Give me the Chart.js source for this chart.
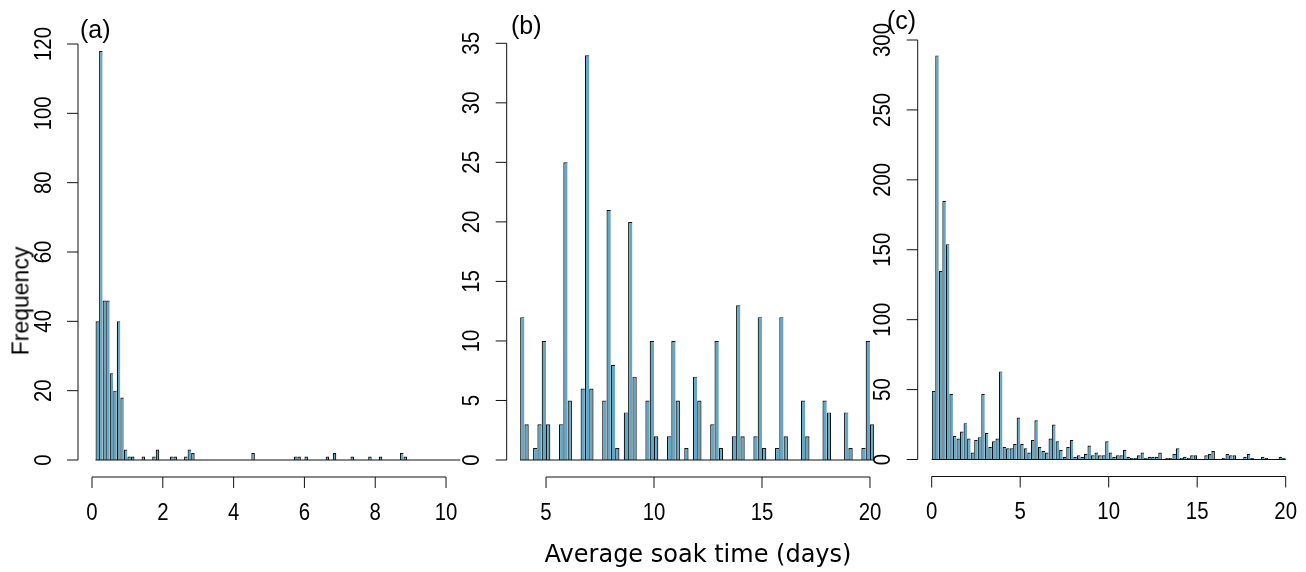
<!DOCTYPE html>
<html>
<head>
<meta charset="utf-8">
<script src="https://cdn.jsdelivr.net/npm/chart.js@4.4.1/dist/chart.umd.min.js"></script>
<style>
html,body{margin:0;padding:0;background:#fff;}
#wrap{position:relative;width:1306px;height:572px;overflow:hidden;background:#fff;}
canvas{position:absolute;left:0;top:0;}
.plab{position:absolute;font-family:"Liberation Sans",Arial,sans-serif;font-size:25px;color:#000;line-height:1;}
#ylab{position:absolute;left:21px;top:301px;transform:translate(-50%,-50%) rotate(-90deg);font-family:"Liberation Sans",Arial,sans-serif;font-size:23px;white-space:nowrap;line-height:1;}
#xlab{position:absolute;left:698px;top:554px;transform:translate(-50%,-50%);font-family:"DejaVu Sans",sans-serif;font-size:24px;white-space:nowrap;line-height:1;}
</style>
</head>
<body>
<div id="wrap">
<canvas id="ca" width="1306" height="572"></canvas>
<canvas id="cb" width="1306" height="572"></canvas>
<canvas id="cc" width="1306" height="572"></canvas>
<div class="plab" style="left:80px;top:17px;">(a)</div>
<div class="plab" style="left:511px;top:13px;">(b)</div>
<div class="plab" style="left:887px;top:8px;">(c)</div>
<div id="ylab">Frequency</div>
<div id="xlab">Average soak time (days)</div>
</div>
<script>
// ---- data (histogram counts per bin) ----
// Panel (a): bins of 0.1 day starting at 0.1
const binStartA = 0.1;
const binWidthA = 0.1;
const countsA = [
  40,118,46,46,25,20,40,18,3,1,
  1,0,0,1,0,0,1,3,0,0,
  0,1,1,0,0,1,3,2,0,0,
  0,0,0,0,0,0,0,0,0,0,
  0,0,0,0,2,0,0,0,0,0,
  0,0,0,0,0,0,1,1,0,1,
  0,0,0,0,0,1,0,2,0,0,
  0,0,1,0,0,0,0,1,0,0,
  1,0,0,0,0,0,2,1,0,0,
  0,0,0,0,0,0,0,0,0,0,
  0,0,0
];
// Panel (b): bins of 0.2 day starting at 3.8
const binStartB = 3.8;
const binWidthB = 0.2;
const countsB = [
  12,3,0,1,3,10,3,0,0,3,
  25,5,0,0,6,34,6,0,0,5,
  21,8,1,0,4,20,7,0,0,5,
  10,2,0,0,2,10,5,0,1,0,
  7,5,0,0,3,10,1,0,0,2,
  13,2,0,0,2,12,1,0,0,1,
  12,2,0,0,0,5,2,0,0,0,
  5,4,0,0,0,4,1,0,0,1,
  10,3
];
// Panel (c): bins of 0.2 day starting at 0
const binStartC = 0;
const binWidthC = 0.2;
const countsC = [
  49,289,135,185,154,47,17,15,20,26,
  15,5,14,16,47,19,9,13,15,63,
  9,8,8,11,30,11,8,5,14,28,
  9,6,5,15,25,13,7,2,9,14,
  2,3,2,4,10,3,5,3,3,13,
  5,2,3,3,7,2,1,1,3,5,
  1,2,2,2,5,0,1,1,4,8,
  1,2,1,3,3,0,0,3,4,6,
  0,0,1,4,3,3,0,0,2,4,
  1,0,0,2,1,0,0,0,2,1
];
// tick labels
const xTicksA = [0,2,4,6,8,10];
const xTicksB = [5,10,15,20];
const xTicksC = [0,5,10,15,20];
const yTicksA = [0,20,40,60,80,100,120];
const yTicksB = [0,5,10,15,20,25,30,35];
const yTicksC = [0,50,100,150,200,250,300];

// ---- layout (pixel placement of each panel) ----
const panels = [
  {id:'ca', counts:countsA, start:binStartA, width:binWidthA, xTicks:xTicksA, yTicks:yTicksA,
   xMin:0, xMax:10.4, left:92, right:460.2, top:44, bottom:460, yMax:120, yAxisX:78},
  {id:'cb', counts:countsB, start:binStartB, width:binWidthB, xTicks:xTicksB, yTicks:yTicksB,
   xMin:3.8, xMax:20.2, left:520.1, right:874.3, top:43.3, bottom:460, yMax:35, yAxisX:506.7},
  {id:'cc', counts:countsC, start:binStartC, width:binWidthC, xTicks:xTicksC, yTicks:yTicksC,
   xMin:0, xMax:20, left:931.7, right:1285.7, top:40, bottom:459.5, yMax:300, yAxisX:917.7}
];

const BAR_FILL = '#62a8c6';
const INK = '#111';
const TICK_FONT = '24px "Liberation Sans", Arial, sans-serif';
const TICK_SQUEEZE = 0.85;

const rAxes = {
  id: 'rAxes',
  afterDatasetsDraw(chart, args, o) {
    const ctx = chart.ctx, xs = chart.scales.x, ys = chart.scales.y;
    ctx.save();
    ctx.strokeStyle = INK;
    ctx.lineWidth = 1;
    // histogram baseline (zero-height bins)
    const y0 = ys.getPixelForValue(0);
    ctx.beginPath();
    ctx.moveTo(xs.getPixelForValue(o.binStart), y0);
    ctx.lineTo(xs.getPixelForValue(o.binEnd), y0);
    ctx.stroke();
    // x axis
    const xAxisY = y0 + 17;
    const xt = o.xTicks;
    ctx.beginPath();
    ctx.moveTo(xs.getPixelForValue(xt[0]), xAxisY);
    ctx.lineTo(xs.getPixelForValue(xt[xt.length-1]), xAxisY);
    xt.forEach(v => {
      const px = xs.getPixelForValue(v);
      ctx.moveTo(px, xAxisY);
      ctx.lineTo(px, xAxisY + 11);
    });
    ctx.stroke();
    ctx.fillStyle = '#000';
    ctx.font = TICK_FONT;
    ctx.textAlign = 'center';
    ctx.textBaseline = 'middle';
    xt.forEach(v => {
      ctx.save();
      ctx.translate(xs.getPixelForValue(v), xAxisY + 36);
      ctx.scale(TICK_SQUEEZE, 1);
      ctx.fillText(String(v), 0, 0);
      ctx.restore();
    });
    // y axis
    const yt = o.yTicks;
    const ax = o.yAxisX;
    ctx.beginPath();
    ctx.moveTo(ax, ys.getPixelForValue(yt[0]));
    ctx.lineTo(ax, ys.getPixelForValue(yt[yt.length-1]));
    yt.forEach(v => {
      const py = ys.getPixelForValue(v);
      ctx.moveTo(ax, py);
      ctx.lineTo(ax - 11, py);
    });
    ctx.stroke();
    yt.forEach(v => {
      const py = ys.getPixelForValue(v);
      ctx.save();
      ctx.translate(ax - 34, py);
      ctx.rotate(-Math.PI/2);
      ctx.scale(TICK_SQUEEZE, 1);
      ctx.fillText(String(v), 0, 0);
      ctx.restore();
    });
    ctx.restore();
  }
};

panels.forEach(p => {
  const pts = p.counts.map((c, i) => ({x: p.start + (i + 0.5) * p.width, y: c}));
  const n = p.counts.length;
  new Chart(document.getElementById(p.id), {
    type: 'bar',
    data: {
      datasets: [{
        data: pts,
        backgroundColor: BAR_FILL,
        borderColor: INK,
        borderSkipped: false,
        inflateAmount: 0,
        borderWidth: (ctx) => {
          const i = ctx.dataIndex;
          const next = (i + 1 < n) ? p.counts[i + 1] : 0;
          return {left: 1.2, top: 1.2, bottom: 0, right: next === 0 ? 1.2 : 0};
        },
        barPercentage: 1,
        categoryPercentage: 1
      }]
    },
    options: {
      responsive: false,
      animation: false,
      devicePixelRatio: 1,
      layout: {padding: {left: p.left, right: 1306 - p.right, top: p.top, bottom: 572 - p.bottom}},
      plugins: {
        legend: {display: false},
        tooltip: {enabled: false},
        rAxes: {binStart: p.start, binEnd: p.start + n * p.width, xTicks: p.xTicks, yTicks: p.yTicks, yAxisX: p.yAxisX}
      },
      scales: {
        x: {type: 'linear', min: p.xMin, max: p.xMax, offset: false, display: false, grid: {offset: false}},
        y: {type: 'linear', min: 0, max: p.yMax, display: false}
      }
    },
    plugins: [rAxes]
  });
});
</script>
</body>
</html>
